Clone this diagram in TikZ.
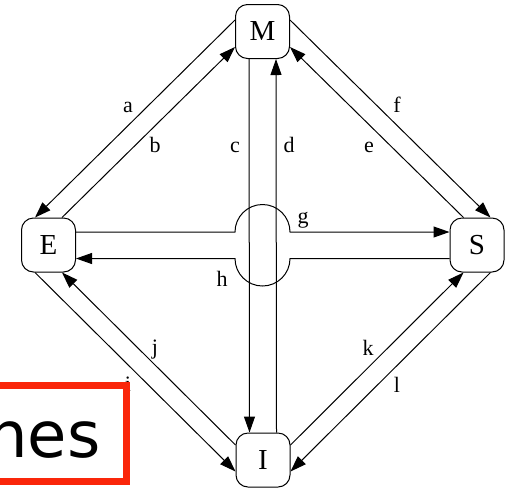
\documentclass[tikz,border=0pt]{standalone}
\usepackage{fontspec}
\setmainfont{Liberation Serif}
\newfontfamily\sansf{DejaVu Sans}
\usetikzlibrary{arrows.meta}
\definecolor{boxred}{RGB}{250,38,10}
\begin{document}
\begin{tikzpicture}[x=1pt,y=-1pt, line width=1pt,
  state/.style={draw, rounded corners=12pt, minimum width=54pt, minimum height=54pt, inner sep=0pt, font=\fontsize{29}{29}\selectfont, fill=white},
  lab/.style={anchor=base, inner sep=0pt, font=\fontsize{22}{22}\selectfont},
  arr/.style={-{Triangle[length=16pt,width=11pt]}}]
\useasboundingbox (0,0) rectangle (508,488);
\node[state] (M) at (262.5,31.5) {M};
\node[state] (E) at (48.5,245) {E};
\node[state] (S) at (477,245) {S};
\node[state] (I) at (263,460) {I};
\coordinate (X) at (262.5,245);
% upper left
\draw[arr] ([yshift=11.5pt]M.west) -- ([xshift=-13.5pt]E.north);
\draw[arr] ([xshift=13.5pt]E.north) -- ([yshift=-15.5pt]M.west);
% upper right
\draw[arr] ([yshift=11.5pt]M.east) -- ([xshift=13.5pt]S.north);
\draw[arr] ([xshift=-13.5pt]S.north) -- ([yshift=-15.5pt]M.east);
% verticals
\draw[arr] ([xshift=-13.5pt]M.south) -- ([xshift=-13.5pt]I.north);
\draw[arr] ([xshift=13.5pt]I.north) -- ([xshift=13.5pt]M.south);
% horizontals with bump
\draw[arr] ([yshift=13pt]E.east) -- ([xshift=-27.5pt,yshift=13pt]X) arc[start angle=180,end angle=0,radius=27.5pt] -- ([yshift=13pt]S.west);
\draw[arr] ([yshift=-13.5pt]S.west) -- ([xshift=27.5pt,yshift=-13.5pt]X) arc[start angle=0,end angle=-180,radius=27.5pt] -- ([yshift=-13.5pt]E.east);
% lower left
\draw[arr] ([xshift=-13.5pt]E.south) -- ([yshift=-11.5pt]I.west);
\draw[arr] ([yshift=15pt]I.west) -- ([xshift=13.5pt]E.south);
% lower right
\draw[arr] ([yshift=15pt]I.east) -- ([xshift=-13.5pt]S.south);
\draw[arr] ([xshift=13.5pt]S.south) -- ([yshift=-11.5pt]I.east);
% labels
\node[lab] (la) at (128,112.5) {a};
\node[lab] (lb) at (155,152.5) {b};
\node[lab] (lc) at (235,152.5) {c};
\node[lab] (ld) at (289,152.5) {d};
\node[lab] (le) at (369,152.5) {e};
\node[lab] (lf) at (397,112.5) {f};
\node[lab] (lg) at (303,223) {g};
\node[lab] (lh) at (222,286) {h};
\node[lab] (li) at (128,391) {i};
\node[lab] (lj) at (155,354) {j};
\node[lab] (lk) at (368,355) {k};
\node[lab] (ll) at (397,392) {l};
% overlay box
\draw[boxred, line width=7pt, fill=white] (-10,385.5) rectangle (126.5,481.5);
\node[anchor=base east, inner sep=0pt, font=\sansf\fontsize{64}{64}\selectfont] (nes) at (101,457) {nes};
\end{tikzpicture}
\end{document}
